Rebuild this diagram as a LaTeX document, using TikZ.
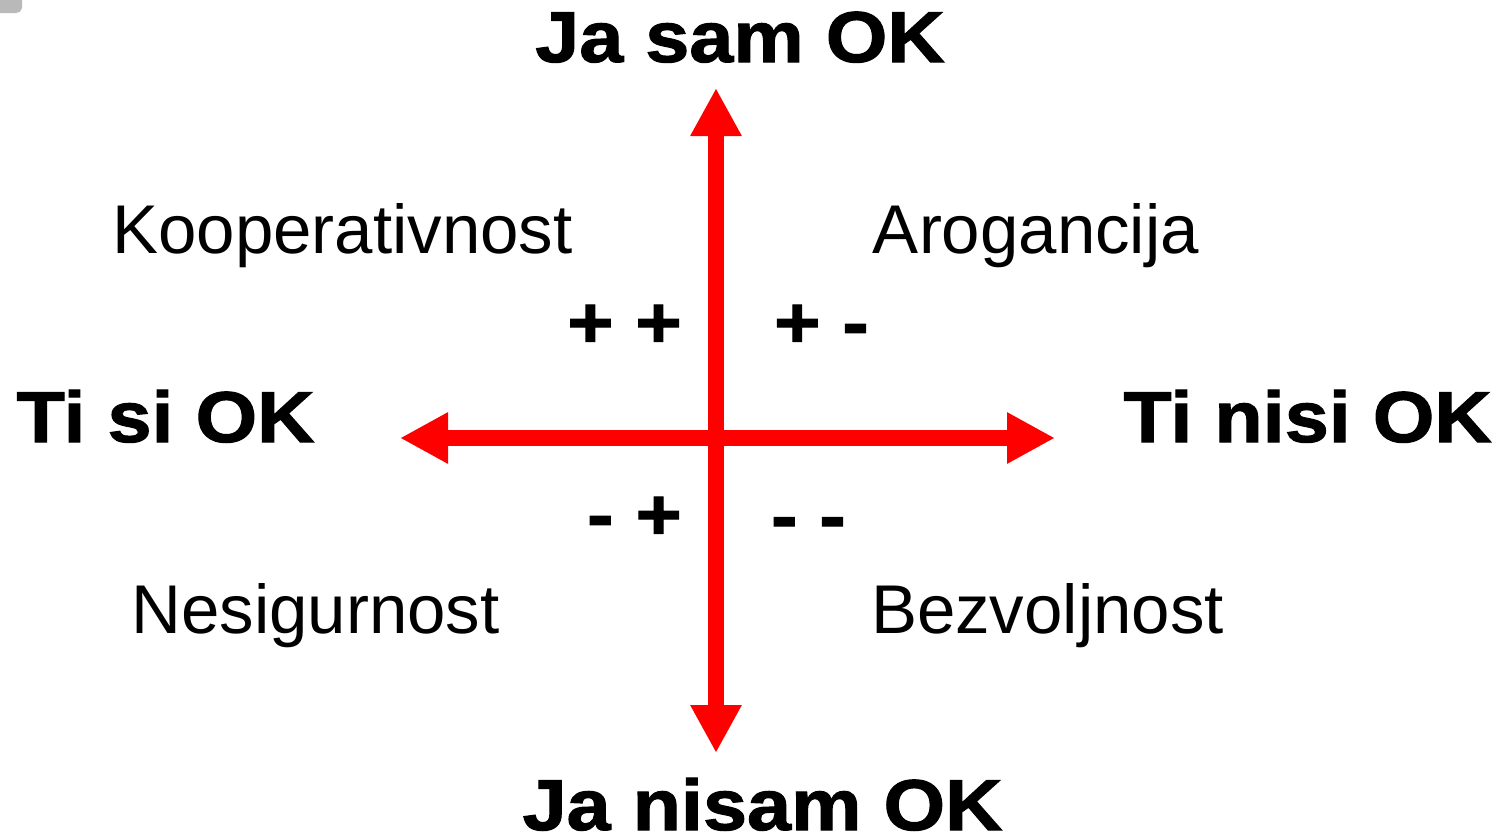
\documentclass[tikz,border=0pt]{standalone}
\usepackage{fontspec}
\setmainfont{Liberation Sans}
\newfontfamily\heavy{Liberation Sans Bold}[FakeStretch=1.1,FakeBold=1.5]
\usetikzlibrary{arrows.meta}
\definecolor{axisred}{RGB}{255,0,0}
\tikzset{
  axis/.style={line width=16pt, draw=axisred,
    {Triangle[length=48pt,width=48pt]}-{Triangle[length=48pt,width=48pt]}},
  heading/.style={inner sep=0pt, anchor=base, font=\heavy\fontsize{72}{80}\selectfont},
  signs/.style={inner sep=0pt, anchor=center, font=\heavy\fontsize{72}{80}\selectfont},
  quadrant/.style={inner sep=0pt, anchor=base, font=\fontsize{69}{78}\selectfont},
}
\begin{document}
\begin{tikzpicture}[x=1pt,y=-1pt]
\useasboundingbox (0,0) rectangle (1504,833);
% small grey artifact in the top left corner
\fill[gray!55] (0,0) -- (22,0) -- (22,8) to[out=-90,in=0] (16,13) -- (0,13) -- cycle;
% axis end points
\coordinate (top) at (716,88);
\coordinate (bottom) at (716,753);
\coordinate (left) at (400,438);
\coordinate (right) at (1055,438);
\draw[axis] (left) -- (right);
\draw[axis] (bottom) -- (top);
% headings
\node[heading] (jasam) at (740,62) {Ja sam OK};
\node[heading] (janisam) at (762.5,830) {Ja nisam OK};
\node[heading] (tisi) at (165.5,442) {Ti si OK};
\node[heading] (tinisi) at (1307.5,442) {Ti nisi OK};
% quadrant labels
\node[quadrant] (koop) at (342.5,253) {Kooperativnost};
\node[quadrant] (arog) at (1036,253) {Arogancija};
\node[quadrant] (nesig) at (315.5,633) {Nesigurnost};
\node[quadrant] (bezv) at (1047.5,633) {Bezvoljnost};
% signs
\node[signs] (pp) at (624.5,326) {+ +};
\node[signs] (pm) at (821.5,326) {+ -};
\node[signs] (mp) at (634.5,518) {- +};
\node[signs] (mm) at (808.5,529) {- -};
\end{tikzpicture}
\end{document}
